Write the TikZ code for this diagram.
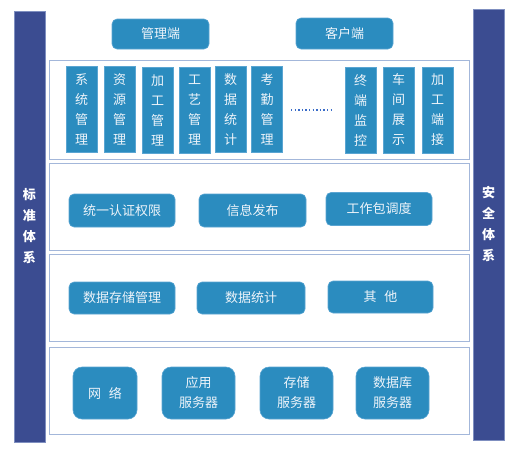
\documentclass[tikz,border=0pt]{standalone}
\usepackage{fontspec}
\setmainfont{Noto Sans CJK SC}
\definecolor{boxblue}{HTML}{2B8CBF}
\definecolor{boxedge}{HTML}{5AA5D2}
\definecolor{barblue}{HTML}{3B4C91}
\definecolor{baredge}{HTML}{7F8FC0}
\definecolor{panedge}{HTML}{A3B7DA}
\definecolor{txt}{HTML}{EEF4FA}
\definecolor{dotblue}{HTML}{3A6CC8}
\tikzset{
  box/.style={draw=boxedge, line width=0.6pt, fill=boxblue, text=txt, inner sep=0pt, align=center,
    font=\fontsize{13}{15}\selectfont},
  rbox/.style={box, rounded corners=5pt},
  vbox/.style={box, minimum width=31pt, minimum height=86pt, font=\fontsize{13}{20}\selectfont},
  sbox/.style={box, rounded corners=9pt, font=\fontsize{13}{20}\selectfont},
  bar/.style={draw=baredge, line width=0.6pt, fill=barblue, text=white, inner sep=0pt, align=center,
    minimum width=31pt, minimum height=431pt, font=\fontsize{13}{21}\selectfont\bfseries},
  panel/.style={draw=panedge, line width=1pt, fill=white, inner sep=0pt},
}
\begin{document}
\begin{tikzpicture}[x=1pt,y=-1pt]
\useasboundingbox (0,0) rectangle (519,451);
% side bars
\node[bar] (std) at (29.5,226.5) {标\\准\\体\\系};
\node[bar] (sec) at (488.5,224.5) {安\\全\\体\\系};
% top
\node[rbox, minimum width=97pt, minimum height=30pt] (mgr) at (160.5,34) {管理端};
\node[rbox, minimum width=97pt, minimum height=31pt] (cli) at (344.5,33.5) {客户端};
% panels
\node[panel, minimum width=420.5pt, minimum height=99pt] (p1) at (259.25,109.5) {};
\node[panel, minimum width=420.5pt, minimum height=87pt] (p2) at (259.25,206.5) {};
\node[panel, minimum width=420.5pt, minimum height=87pt] (p3) at (259.25,297.5) {};
\node[panel, minimum width=420.5pt, minimum height=87pt] (p4) at (259.25,390.5) {};
% layer 1
\node[vbox] (a1) at (81.5,109) {系\\统\\管\\理};
\node[vbox] (a2) at (119.5,109) {资\\源\\管\\理};
\node[vbox] (a3) at (157.5,110) {加\\工\\管\\理};
\node[vbox] (a4) at (194.5,110) {工\\艺\\管\\理};
\node[vbox] (a5) at (230.5,109.5) {数\\据\\统\\计};
\node[vbox] (a6) at (267,109.5) {考\\勤\\管\\理};
\coordinate (d1) at (291,110);
\coordinate (d2) at (331,110);
\draw[dotblue, line width=1.4pt, dash pattern=on 1.4pt off 2.2pt] (d1) -- (d2);
\node[vbox] (a7) at (360.5,110) {终\\端\\监\\控};
\node[vbox] (a8) at (398.5,110) {车\\间\\展\\示};
\node[vbox] (a9) at (437.5,110) {加\\工\\端\\接};
% layer 2
\node[rbox, minimum width=106pt, minimum height=33pt] (b1) at (122,210.5) {统一认证权限};
\node[rbox, minimum width=107pt, minimum height=33pt] (b2) at (252.5,210.5) {信息发布};
\node[rbox, minimum width=106pt, minimum height=33pt] (b3) at (379,209) {工作包调度};
% layer 3
\node[rbox, minimum width=106pt, minimum height=32pt] (c1) at (122,298) {数据存储管理};
\node[rbox, minimum width=108pt, minimum height=32pt] (c2) at (251,298) {数据统计};
\node[rbox, minimum width=105pt, minimum height=32pt] (c3) at (380.5,297) {其\hspace{0.6em}他};
% layer 4
\node[sbox, minimum width=64pt, minimum height=52pt] (e1) at (105,393) {网\hspace{0.6em}络};
\node[sbox, minimum width=73pt, minimum height=52pt] (e2) at (198.5,393) {应用\\服务器};
\node[sbox, minimum width=73pt, minimum height=52pt] (e3) at (296.5,393) {存储\\服务器};
\node[sbox, minimum width=73pt, minimum height=52pt] (e4) at (392.5,393) {数据库\\服务器};
\end{tikzpicture}
\end{document}
